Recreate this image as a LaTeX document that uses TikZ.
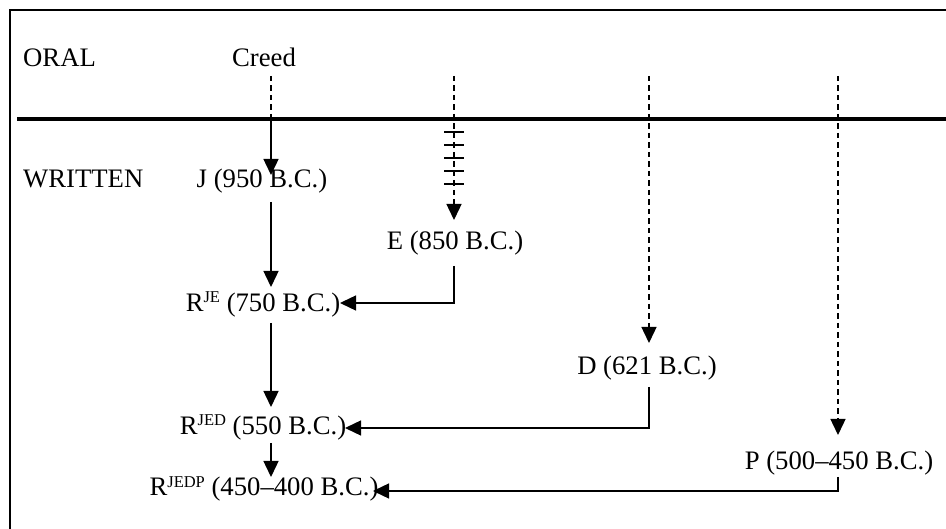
\documentclass[tikz,border=0pt]{standalone}
\usepackage{fontspec}
\setmainfont{Liberation Serif}
\usetikzlibrary{arrows.meta}
\newcommand\supr[1]{\raisebox{9pt}{\fontsize{16.5}{16.5}\selectfont #1}}
\begin{document}
\begin{tikzpicture}[x=1pt,y=-1pt,
  lbl/.style={inner sep=0pt, anchor=base, font=\fontsize{26.7}{30}\selectfont},
  conn/.style={line width=1.4pt},
  dsh/.style={line width=1.4pt, dash pattern=on 5.5pt off 4pt},
  tip/.style={-{Triangle[width=15pt,length=16pt]}},
  tick/.style={line width=1.2pt}
]
\useasboundingbox (0,0) rectangle (946,529);
% frame and separator
\draw[line width=2.5pt] (10,529) -- (10,10) -- (946,10);
\draw[line width=4pt] (17,119) -- (946,119);

% labels
\node[lbl, anchor=base west] (oral) at (23,67) {ORAL};
\node[lbl] (creed) at (264,67) {Creed};
\node[lbl, anchor=base west] (written) at (23,188) {WRITTEN};
\node[lbl] (j) at (262,188) {J (950 B.C.)};
\node[lbl] (e) at (455,250) {E (850 B.C.)};
\node[lbl] (rje) at (263,312) {R\supr{JE} (750 B.C.)};
\node[lbl] (d) at (647,375) {D (621 B.C.)};
\node[lbl] (rjed) at (263,435) {R\supr{JED} (550 B.C.)};
\node[lbl] (p) at (839,470) {P (500–450 B.C.)};
\node[lbl] (rjedp) at (264,496) {R\supr{JEDP} (450–400 B.C.)};

% connector end points
\coordinate (creedout) at (271,76);
\coordinate (creedx) at (271,119);
\coordinate (jin) at (271,175);
\coordinate (jout) at (271,202);
\coordinate (rjein) at (271,287);
\coordinate (rjeside) at (340,303);
\coordinate (rjeout) at (271,323);
\coordinate (rjedin) at (271,407);
\coordinate (rjedside) at (345,428);
\coordinate (rjedout) at (271,443);
\coordinate (rjedpin) at (271,477);
\coordinate (rjedpside) at (373,491);
\coordinate (etop) at (454,76);
\coordinate (ein) at (454,220);
\coordinate (eout) at (454,266);
\coordinate (dtop) at (649,76);
\coordinate (din) at (649,343);
\coordinate (dout) at (649,387);
\coordinate (ptop) at (838,76);
\coordinate (pin) at (838,435);
\coordinate (pout) at (838,477);

% oral traditions
\draw[dsh] (creedout) -- (creedx);
\draw[conn,tip] (creedx) -- (jin);
\draw[dsh,tip] (etop) -- (ein);
\foreach \yy in {132,145,158,171,184} \draw[tick] (444,\yy) -- (464,\yy);
\draw[dsh,tip] (dtop) -- (din);
\draw[dsh,tip] (ptop) -- (pin);

% written sources
\draw[conn,tip] (jout) -- (rjein);
\draw[conn,tip] (eout) |- (rjeside);
\draw[conn,tip] (rjeout) -- (rjedin);
\draw[conn,tip] (dout) |- (rjedside);
\draw[conn,tip] (rjedout) -- (rjedpin);
\draw[conn,tip] (pout) |- (rjedpside);
\end{tikzpicture}
\end{document}
